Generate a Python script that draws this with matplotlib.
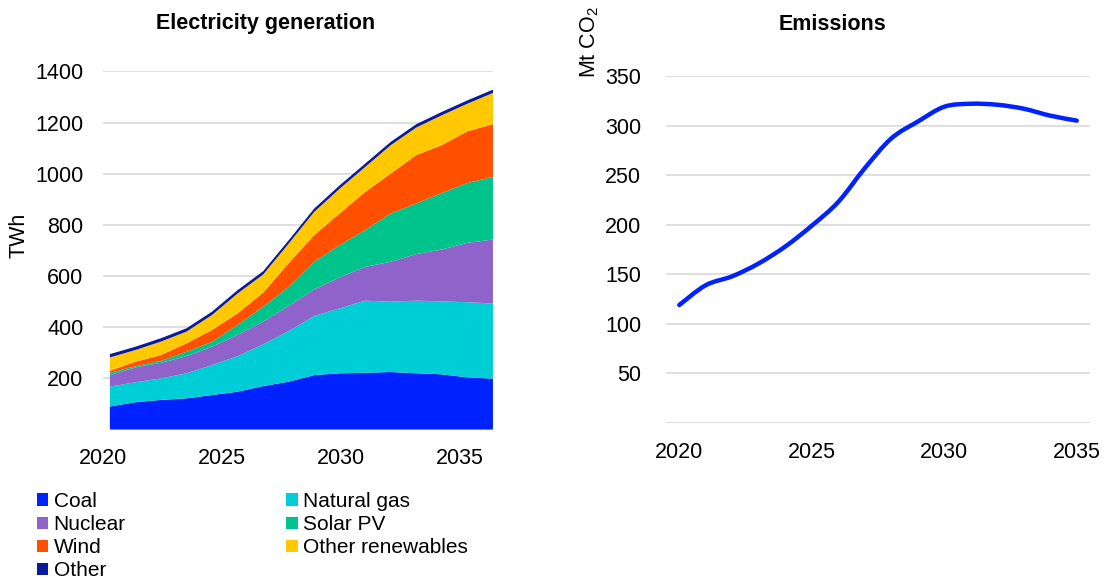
import numpy as np
import matplotlib
matplotlib.use("Agg")
import matplotlib.pyplot as plt
from matplotlib.patches import Patch, PathPatch
from matplotlib.path import Path

plt.rcParams["font.family"] = ["Liberation Sans", "DejaVu Sans"]
plt.rcParams["mathtext.fontset"] = "custom"
plt.rcParams["mathtext.rm"] = "Liberation Sans"
plt.rcParams["mathtext.it"] = "Liberation Sans"

years = np.arange(2020, 2036)

# electricity generation, TWh
coal = [90, 107, 116, 122, 135, 148, 170, 187, 213, 220, 222, 225, 220, 216, 204, 199]
natural_gas = [78, 78, 84, 98, 117, 139, 163, 198, 231, 254, 282, 275, 284, 285, 294, 294]
nuclear = [45, 58, 61, 67, 72, 83, 89, 98, 104, 121, 132, 156, 182, 203, 232, 250]
solar_pv = [9, 5, 8, 17, 19, 39, 58, 75, 108, 126, 144, 189, 198, 221, 234, 245]
wind = [8, 17, 22, 33, 46, 45, 55, 92, 104, 124, 149, 156, 189, 187, 202, 206]
other_renewables = [52, 46, 53, 46, 59, 78, 71, 77, 91, 97, 98, 111, 108, 117, 108, 122]
other = [13, 13, 13, 13, 13, 13, 13, 13, 13, 13, 13, 13, 13, 13, 13, 13]

# emissions, Mt CO2
emissions = [119, 139, 148, 161, 178, 199, 223, 257, 287, 304, 319, 322, 321, 317, 310, 305]

labels = ["Coal", "Natural gas", "Nuclear", "Solar PV", "Wind", "Other renewables", "Other"]
colors = ["#0022FF", "#00CED6", "#8F63C9", "#00C48C", "#FF5000", "#FFC800", "#0A1A9E"]

GRID = "#D9D9D9"


def smooth_path(xs, ys, k=1 / 6):
    # excel-like smoothed line: cubic bezier segments through the data points
    xs = np.asarray(xs, float)
    ys = np.asarray(ys, float)
    verts = [(xs[0], ys[0])]
    codes = [Path.MOVETO]
    n = len(xs)
    for i in range(n - 1):
        x0, y0 = xs[max(i - 1, 0)], ys[max(i - 1, 0)]
        x1, y1 = xs[i], ys[i]
        x2, y2 = xs[i + 1], ys[i + 1]
        x3, y3 = xs[min(i + 2, n - 1)], ys[min(i + 2, n - 1)]
        verts += [(x1 + (x2 - x0) * k, y1 + (y2 - y0) * k),
                  (x2 - (x3 - x1) * k, y2 - (y3 - y1) * k),
                  (x2, y2)]
        codes += [Path.CURVE4] * 3
    return Path(verts, codes)


fig = plt.figure(figsize=(11.11, 5.82), dpi=100)

# ---- left: electricity generation
ax1 = fig.add_axes([0.0927, 0.2619, 0.351, 0.6153])
ax1.stackplot(years, coal, natural_gas, nuclear, solar_pv, wind,
              other_renewables, other, colors=colors, linewidth=0, zorder=2)
ax1.set_xlim(2020, 2035)
ax1.set_ylim(0, 1400)
ax1.set_yticks([200, 400, 600, 800, 1000, 1200, 1400])
ax1.yaxis.grid(True, color=GRID, linewidth=1.2, zorder=0)
ax1.set_axisbelow(True)
# labels sit slightly left of the data years in the original
ax1.set_xticks(np.linspace(2019.73, 2033.69, 4))
ax1.set_xticklabels(["2020", "2025", "2030", "2035"])
ax1.tick_params(axis="y", length=0, pad=14, labelsize=15.5)
ax1.tick_params(axis="x", length=0, pad=13, labelsize=15.5)
for s in ax1.spines.values():
    s.set_visible(False)
fig.text(19 / 1111, 1 - 235 / 582, "TWh", rotation=90, ha="center", va="center",
         fontsize=15.5)
fig.text(266 / 1111, 1 - 24 / 582, "Electricity generation", ha="center",
         va="center", fontsize=15.5, fontweight="bold")

# ---- right: emissions
ax2 = fig.add_axes([0.5995, 0.2732, 0.3816, 0.5962])
x = np.arange(len(years))
ax2.add_patch(PathPatch(smooth_path(x, emissions), facecolor="none",
                        edgecolor="#0022FF", linewidth=3.2, capstyle="round",
                        joinstyle="round", zorder=3))
ax2.set_xlim(-0.5, len(years) - 0.5)
ax2.set_ylim(0, 350)
ax2.set_yticks([0, 50, 100, 150, 200, 250, 300, 350])
ax2.set_yticklabels(["", "50", "100", "150", "200", "250", "300", "350"])
ax2.yaxis.grid(True, color=GRID, linewidth=1.2, zorder=0)
ax2.set_axisbelow(True)
ax2.set_xticks([0, 5, 10, 15])
ax2.set_xticklabels([str(years[i]) for i in [0, 5, 10, 15]])
ax2.tick_params(axis="y", length=0, pad=18, labelsize=15.5)
ax2.tick_params(axis="x", length=0, pad=14, labelsize=15.5)
for s in ax2.spines.values():
    s.set_visible(False)
fig.text(590 / 1111, 1 - 42 / 582, "Mt CO$_2$", rotation=90, ha="center",
         va="center", fontsize=15.5)
fig.text(832 / 1111, 1 - 24 / 582, "Emissions", ha="center", va="center",
         fontsize=15.5, fontweight="bold")

# ---- legend (row-major order as in the original)
order = [0, 2, 4, 6, 1, 3, 5]
handles = [Patch(facecolor=colors[i], edgecolor="none") for i in order]
fig.legend(handles, [labels[i] for i in order], loc="upper left",
           bbox_to_anchor=(37 / 1111, 1 - 492 / 582), ncol=2, frameon=False,
           fontsize=15, handlelength=0.55, handleheight=0.55, handletextpad=0.25,
           columnspacing=7.7, labelspacing=0.2, borderpad=0, borderaxespad=0)

fig.savefig("out.png", dpi=100)
